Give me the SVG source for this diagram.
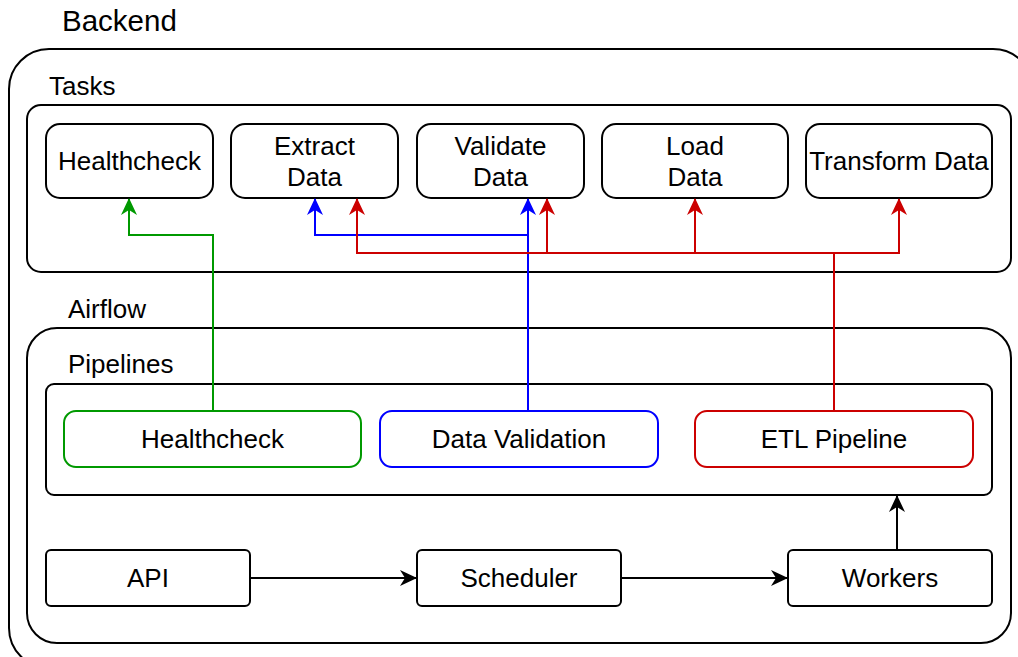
<svg xmlns="http://www.w3.org/2000/svg" width="1018" height="657" viewBox="0 0 1018 657">
<defs>
<style>
text{font-family:"Liberation Sans",Arial,sans-serif;fill:#000}
.lbl{font-size:26px}
.t{font-size:26px;text-anchor:middle}
.box{fill:#fff;stroke:#000;stroke-width:2}
.cont{fill:#fff;stroke:#000;stroke-width:2}
.e{fill:none;stroke-width:2}
</style>
<marker id="ak" viewBox="0 0 17 16" refX="16" refY="8" markerWidth="17" markerHeight="16" markerUnits="userSpaceOnUse" orient="auto"><path d="M0,0 L17,8 L0,16 L5,8 Z" fill="#000"/></marker>
<marker id="ag" viewBox="0 0 17 16" refX="16" refY="8" markerWidth="17" markerHeight="16" markerUnits="userSpaceOnUse" orient="auto"><path d="M0,0 L17,8 L0,16 L5,8 Z" fill="#009900"/></marker>
<marker id="ab" viewBox="0 0 17 16" refX="16" refY="8" markerWidth="17" markerHeight="16" markerUnits="userSpaceOnUse" orient="auto"><path d="M0,0 L17,8 L0,16 L5,8 Z" fill="#0000ff"/></marker>
<marker id="ar" viewBox="0 0 17 16" refX="16" refY="8" markerWidth="17" markerHeight="16" markerUnits="userSpaceOnUse" orient="auto"><path d="M0,0 L17,8 L0,16 L5,8 Z" fill="#cc0000"/></marker>
</defs>
<rect width="1018" height="657" fill="#fff"/>
<g id="backend">
<rect class="cont" x="9" y="49" width="1024" height="619" rx="40"/>
<text class="lbl" x="62" y="31" style="font-size:29.5px">Backend</text>
</g>
<g id="tasks">
<rect class="cont" x="27" y="105" width="984" height="167" rx="14"/>
<text class="lbl" x="49" y="95">Tasks</text>
</g>
<g id="task-healthcheck"><rect class="box" x="46" y="124" width="167" height="74" rx="14"/><text class="t" x="129.5" y="170">Healthcheck</text></g>
<g id="task-extract"><rect class="box" x="231" y="124" width="167" height="74" rx="14"/><text class="t" x="314.5" y="155">Extract</text><text class="t" x="314.5" y="186">Data</text></g>
<g id="task-validate"><rect class="box" x="417" y="124" width="167" height="74" rx="14"/><text class="t" x="500.5" y="155">Validate</text><text class="t" x="500.5" y="186">Data</text></g>
<g id="task-load"><rect class="box" x="602" y="124" width="186" height="74" rx="14"/><text class="t" x="695" y="155">Load</text><text class="t" x="695" y="186">Data</text></g>
<g id="task-transform"><rect class="box" x="806" y="124" width="186" height="74" rx="14"/><text class="t" x="899" y="170">Transform Data</text></g>
<g id="airflow">
<rect class="cont" x="27" y="328" width="984" height="315" rx="30"/>
<text class="lbl" x="68" y="318">Airflow</text>
<text class="lbl" x="68" y="373">Pipelines</text>
</g>
<g id="pipelines"><rect class="cont" x="46" y="384" width="946" height="111" rx="8"/></g>
<g id="pl-healthcheck"><rect x="64" y="411" width="297" height="56" rx="12" fill="#fff" stroke="#009900" stroke-width="2"/><text class="t" x="212.5" y="448">Healthcheck</text></g>
<g id="pl-validation"><rect x="380" y="411" width="278" height="56" rx="12" fill="#fff" stroke="#0000ff" stroke-width="2"/><text class="t" x="519" y="448">Data Validation</text></g>
<g id="pl-etl"><rect x="695" y="411" width="278" height="56" rx="12" fill="#fff" stroke="#cc0000" stroke-width="2"/><text class="t" x="834" y="448">ETL Pipeline</text></g>
<g id="api"><rect class="box" x="46" y="550" width="204" height="56" rx="5"/><text class="t" x="148" y="587">API</text></g>
<g id="scheduler"><rect class="box" x="417" y="550" width="204" height="56" rx="5"/><text class="t" x="519" y="587">Scheduler</text></g>
<g id="workers"><rect class="box" x="788" y="550" width="204" height="56" rx="5"/><text class="t" x="890" y="587">Workers</text></g>
<g id="connectors">
<path class="e" stroke="#009900" d="M213,411 V235 H129 V199" marker-end="url(#ag)"/>
<path class="e" stroke="#0000ff" d="M528,411 V199" marker-end="url(#ab)"/>
<path class="e" stroke="#0000ff" d="M528,235 H315 V199" marker-end="url(#ab)"/>
<path class="e" stroke="#cc0000" d="M834,411 V253 H357 V199" marker-end="url(#ar)"/>
<path class="e" stroke="#cc0000" d="M547,253 V199" marker-end="url(#ar)"/>
<path class="e" stroke="#cc0000" d="M695,253 V199" marker-end="url(#ar)"/>
<path class="e" stroke="#cc0000" d="M834,253 H899 V199" marker-end="url(#ar)"/>
<path class="e" stroke="#000" d="M250,578 H416" marker-end="url(#ak)"/>
<path class="e" stroke="#000" d="M621,578 H787" marker-end="url(#ak)"/>
<path class="e" stroke="#000" d="M897,550 V496" marker-end="url(#ak)"/>
</g>
</svg>
